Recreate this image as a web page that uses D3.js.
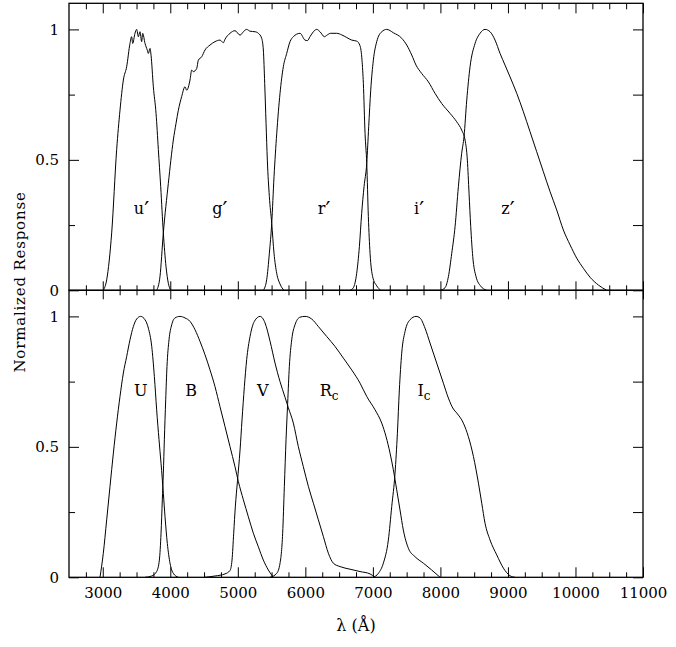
<!DOCTYPE html>
<html>
<head>
<meta charset="utf-8">
<script src="https://cdn.jsdelivr.net/npm/d3@7"></script>
<style>
  body { margin: 0; background: #fff; }
  svg text { font-family: "DejaVu Serif", serif; fill: #000; }
</style>
</head>
<body>
<svg id="chart" width="676" height="647"></svg>
<script>
// filter curves, [wavelength (A), normalized response]
const uPrime = [[3008,0],[3058,0.04],[3132,0.22],[3206,0.54],[3255,0.69],[3305,0.806],[3354,0.857],[3403,0.946],[3428,0.972],[3443,0.946],[3477,0.985],[3502,1.0],[3527,0.972],[3551,0.991],[3576,0.953],[3591,0.985],[3626,0.946],[3660,0.92],[3675,0.908],[3700,0.927],[3715,0.901],[3749,0.78],[3789,0.678],[3823,0.54],[3858,0.397],[3897,0.22],[3937,0.09],[3971,0.027],[4006,0]];
const gPrime = [[3798,0],[3847,0.052],[3897,0.22],[3971,0.41],[4045,0.576],[4085,0.64],[4119,0.69],[4168,0.742],[4218,0.78],[4243,0.767],[4292,0.806],[4317,0.844],[4341,0.838],[4391,0.85],[4415,0.882],[4465,0.895],[4514,0.921],[4588,0.94],[4662,0.953],[4736,0.959],[4786,0.949],[4810,0.962],[4884,0.985],[4958,0.995],[5033,0.978],[5082,0.991],[5131,1.0],[5181,0.993],[5255,0.991],[5304,0.985],[5353,0.966],[5378,0.921],[5398,0.793],[5418,0.64],[5437,0.499],[5467,0.359],[5502,0.257],[5536,0.142],[5576,0.065],[5625,0.024],[5684,0]];
const rPrime = [[5378,0],[5427,0.04],[5467,0.142],[5502,0.257],[5536,0.435],[5576,0.6],[5625,0.755],[5674,0.857],[5724,0.908],[5773,0.953],[5822,0.972],[5921,0.985],[5995,0.959],[6030,0.957],[6069,0.972],[6119,0.991],[6168,1.0],[6217,0.991],[6282,0.972],[6326,0.979],[6375,0.985],[6464,0.985],[6538,0.979],[6612,0.969],[6686,0.959],[6760,0.955],[6810,0.937],[6839,0.882],[6859,0.793],[6884,0.601],[6909,0.487],[6933,0.282],[6958,0.142],[6997,0.052],[7057,0.017],[7116,0]];
const iPrime = [[6662,0],[6711,0.01],[6760,0.065],[6800,0.167],[6834,0.295],[6869,0.397],[6909,0.487],[6938,0.627],[6968,0.767],[7007,0.882],[7057,0.953],[7131,0.991],[7205,1.0],[7304,0.987],[7427,0.966],[7501,0.94],[7575,0.902],[7639,0.863],[7723,0.831],[7822,0.799],[7920,0.755],[8019,0.716],[8143,0.678],[8241,0.646],[8315,0.614],[8365,0.576],[8399,0.499],[8424,0.372],[8449,0.244],[8479,0.129],[8528,0.052],[8597,0.016],[8686,0]];
const zPrime = [[7995,0],[8069,0.01],[8118,0.052],[8168,0.142],[8217,0.244],[8266,0.397],[8315,0.525],[8350,0.59],[8390,0.729],[8439,0.857],[8513,0.946],[8587,0.985],[8661,1.0],[8735,0.991],[8809,0.959],[8883,0.908],[8957,0.863],[9031,0.818],[9130,0.755],[9229,0.684],[9327,0.608],[9426,0.531],[9525,0.454],[9624,0.378],[9722,0.308],[9821,0.231],[9920,0.174],[10019,0.123],[10118,0.084],[10216,0.05],[10340,0.02],[10463,0]];

const bandU = [[2959,0],[3008,0.092],[3058,0.22],[3107,0.348],[3157,0.476],[3206,0.591],[3255,0.693],[3305,0.783],[3354,0.846],[3403,0.91],[3453,0.961],[3502,0.99],[3561,1.0],[3626,0.987],[3675,0.955],[3725,0.885],[3764,0.77],[3798,0.642],[3833,0.527],[3863,0.437],[3897,0.322],[3922,0.232],[3956,0.13],[3996,0.054],[4045,0.015],[4119,0]];
const bandB = [[3626,0],[3725,0.005],[3798,0.022],[3838,0.066],[3863,0.169],[3882,0.297],[3897,0.399],[3912,0.527],[3932,0.68],[3951,0.808],[3981,0.91],[4021,0.968],[4070,0.994],[4144,1.0],[4218,0.994],[4292,0.981],[4366,0.949],[4440,0.904],[4514,0.853],[4588,0.795],[4662,0.731],[4736,0.654],[4810,0.578],[4884,0.501],[4958,0.424],[5008,0.367],[5082,0.297],[5156,0.232],[5230,0.169],[5304,0.117],[5378,0.066],[5452,0.028],[5526,0]];
const bandV = [[4514,0],[4662,0.005],[4810,0.013],[4884,0.026],[4914,0.066],[4939,0.169],[4963,0.27],[4995,0.37],[5033,0.488],[5062,0.603],[5097,0.731],[5131,0.834],[5181,0.923],[5245,0.981],[5329,1.0],[5403,0.975],[5477,0.905],[5551,0.821],[5625,0.75],[5699,0.69],[5748,0.65],[5822,0.591],[5896,0.501],[5970,0.424],[6045,0.348],[6119,0.284],[6193,0.22],[6267,0.156],[6341,0.092],[6415,0.054],[6514,0.041],[6662,0.031],[6810,0.022],[6958,0.013],[7032,0]];
const bandRc = [[5477,0],[5576,0.015],[5625,0.054],[5664,0.169],[5689,0.348],[5714,0.527],[5738,0.667],[5763,0.808],[5798,0.91],[5847,0.968],[5921,0.997],[5995,1.0],[6094,0.99],[6193,0.961],[6316,0.923],[6439,0.885],[6563,0.84],[6686,0.795],[6810,0.744],[6909,0.693],[7032,0.642],[7131,0.591],[7195,0.539],[7254,0.476],[7303,0.412],[7353,0.335],[7402,0.258],[7451,0.181],[7526,0.111],[7624,0.079],[7748,0.054],[7871,0.028],[7995,0]];
const bandIc = [[7007,0],[7081,0.015],[7155,0.054],[7229,0.143],[7279,0.271],[7328,0.399],[7363,0.552],[7392,0.718],[7427,0.859],[7476,0.942],[7550,0.987],[7639,1.0],[7698,0.994],[7772,0.955],[7846,0.898],[7945,0.821],[8044,0.744],[8118,0.687],[8192,0.645],[8241,0.63],[8340,0.591],[8414,0.539],[8489,0.463],[8563,0.361],[8612,0.284],[8661,0.207],[8735,0.143],[8834,0.086],[8933,0.035],[9031,0.006],[9105,0]];

// labels: [text, prime, subscript, wavelength, response]
const topLabels = [["u",true,"",3574,0.292],["g",true,"",4736,0.292],["r",true,"",6277,0.292],["i",true,"",7684,0.292],["z",true,"",9002,0.292]];
const bottomLabels = [["U",false,"",3563,0.693],["B",false,"",4307,0.693],["V",false,"",5370,0.693],["R",false,"c",6351,0.693],["I",false,"c",7757,0.693]];

const xMajor = [3000,4000,5000,6000,7000,8000,9000,10000,11000];
const yMajor = [0,0.5,1];
const yMinor = [0.25,0.75];

const svg = d3.select("#chart");
const left = 69, right = 643;
const panelTop = [3.3, 290.3], panelBottom = [290.3, 577.3];

const x = d3.scaleLinear().domain([2500, 11000]).range([left, right]);
const yTop = d3.scaleLinear().domain([0, 1.1]).range([panelTop[1], panelTop[0]]);
const yBot = d3.scaleLinear().domain([0, 1.1]).range([panelBottom[1], panelBottom[0]]);

const xMinor = d3.range(2750, 11000, 250).filter(d => d % 1000 !== 0);
const yFmt = d => d === 0 ? "0" : (d === 1 ? "1" : "0.5");

function styleAxis(g) {
  g.select(".domain").remove();
  g.selectAll("line").attr("stroke", "#000").attr("stroke-width", 1);
  g.selectAll("text").style("font-size", "15px").attr("fill", "#000");
}

// x ticks: bottom of chart, middle line (both ways) and top of chart
function xTicks(axisFn, yPos, size, values, labelled) {
  const a = axisFn(x).tickValues(values).tickSizeInner(size).tickSizeOuter(0).tickPadding(10)
    .tickFormat(labelled ? d3.format("d") : "");
  svg.append("g").attr("transform", `translate(0,${yPos})`).call(a).call(styleAxis);
}
xTicks(d3.axisBottom, panelBottom[1], -10, xMajor, true);
xTicks(d3.axisBottom, panelBottom[1], -5, xMinor, false);
xTicks(d3.axisBottom, panelTop[1], -9, xMajor, false);
xTicks(d3.axisBottom, panelTop[1], -5, xMinor, false);
xTicks(d3.axisTop, panelBottom[0], -9, xMajor, false);
xTicks(d3.axisTop, panelBottom[0], -5, xMinor, false);
xTicks(d3.axisTop, panelTop[0], -10, xMajor, false);
xTicks(d3.axisTop, panelTop[0], -6, xMinor, false);

// y ticks for both panels
[yTop, yBot].forEach(ys => {
  svg.append("g").attr("transform", `translate(${left},0)`)
    .call(d3.axisLeft(ys).tickValues(yMajor).tickFormat(yFmt).tickSizeInner(-10).tickSizeOuter(0).tickPadding(10))
    .call(styleAxis);
  svg.append("g").attr("transform", `translate(${left},0)`)
    .call(d3.axisLeft(ys).tickValues(yMinor).tickFormat("").tickSizeInner(-6).tickSizeOuter(0))
    .call(styleAxis);
  svg.append("g").attr("transform", `translate(${right},0)`)
    .call(d3.axisRight(ys).tickValues(yMajor).tickFormat("").tickSizeInner(-10).tickSizeOuter(0))
    .call(styleAxis);
  svg.append("g").attr("transform", `translate(${right},0)`)
    .call(d3.axisRight(ys).tickValues(yMinor).tickFormat("").tickSizeInner(-10).tickSizeOuter(0))
    .call(styleAxis);
});

// frames
[panelTop, panelBottom].forEach(p => {
  svg.append("rect")
    .attr("x", left).attr("y", p[0])
    .attr("width", right - left).attr("height", p[1] - p[0])
    .attr("fill", "none").attr("stroke", "#000").attr("stroke-width", 1.3);
});

// curves
function drawCurves(series, ys) {
  const line = d3.line().x(d => x(d[0])).y(d => ys(d[1])).curve(d3.curveMonotoneX);
  series.forEach(s => {
    svg.append("path").datum(s).attr("d", line)
      .attr("fill", "none").attr("stroke", "#000").attr("stroke-width", 1);
  });
}
drawCurves([uPrime, gPrime, rPrime, iPrime, zPrime], yTop);
drawCurves([bandU, bandB, bandV, bandRc, bandIc], yBot);

function drawLabels(labels, ys) {
  labels.forEach(l => {
    const t = svg.append("text")
      .attr("x", x(l[3])).attr("y", ys(l[4]))
      .attr("text-anchor", "middle")
      .style("font-size", "16px")
      .text(l[0]);
    if (l[1]) {
      // tall slanted prime like the original
      t.append("tspan").attr("dy", 3).style("font-size", "22px")
        .style("font-family", "'DejaVu Sans', sans-serif").text("\u2032");
    }
    if (l[2]) {
      t.append("tspan").attr("dy", 4).style("font-size", "12px").text(l[2]);
    }
  });
}
drawLabels(topLabels, yTop);
drawLabels(bottomLabels, yBot);

// axis titles
svg.append("text")
  .attr("transform", "translate(25,282) rotate(-90)")
  .attr("text-anchor", "middle")
  .style("font-size", "15px")
  .style("letter-spacing", "0.8px")
  .text("Normalized Response");

svg.append("text")
  .attr("x", 356).attr("y", 631)
  .attr("text-anchor", "middle")
  .style("font-size", "16px")
  .text("\u03bb (\u00c5)");
</script>
</body>
</html>
